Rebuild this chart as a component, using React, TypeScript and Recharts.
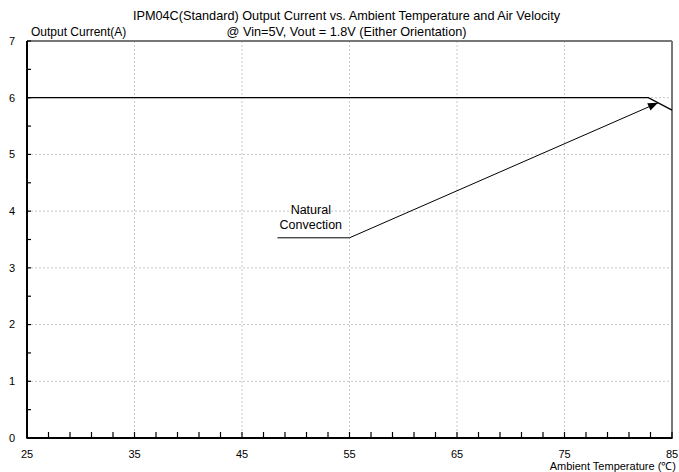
import { LineChart, Line, XAxis, YAxis, CartesianGrid, ReferenceLine, ReferenceDot } from 'recharts';

// derating curve, natural convection
const temps = [25, 82.8, 85];
const current = [6, 6, 5.78];

// callout leader line: label underline -> arrow tip on the curve
const calloutTemps = [48.3, 55, 83.7];
const calloutCurrent = [3.53, 3.53, 5.91];

const xTicks = [25, 35, 45, 55, 65, 75, 85];
const yTicks = [0, 1, 2, 3, 4, 5, 6, 7];
const xMinorTicks = Array.from({ length: 31 }, (_, i) => 25 + i * 2);
const yMinorTicks = Array.from({ length: 15 }, (_, i) => i * 0.5);

const curveData = temps.map((t, i) => ({ t, a: current[i] }));
const calloutData = calloutTemps.map((t, i) => ({ t, c: calloutCurrent[i] }));

const font = '"Liberation Sans", Arial, sans-serif';

const ArrowDot = (props: any) => {
  const { cx, cy, index, points } = props;
  if (index !== calloutTemps.length - 1 || !points) return <g key={`d${index}`} />;
  const prev = points[index - 1];
  const ang = Math.atan2(cy - prev.y, cx - prev.x);
  const len = 10;
  const w = 4;
  const bx = cx - len * Math.cos(ang);
  const by = cy - len * Math.sin(ang);
  const p1 = `${bx + w * Math.sin(ang)},${by - w * Math.cos(ang)}`;
  const p2 = `${bx - w * Math.sin(ang)},${by + w * Math.cos(ang)}`;
  return <polygon key={`d${index}`} points={`${cx},${cy} ${p1} ${p2}`} fill="#000" />;
};

const CalloutText = (props: any) => {
  const { viewBox } = props;
  const x = viewBox.x + (viewBox.width || 0) / 2;
  const y = viewBox.y + (viewBox.height || 0) / 2;
  return (
    <text x={x} textAnchor="middle" fontSize={12.5} fontFamily={font} fill="#000">
      <tspan x={x} y={y - 3}>Natural</tspan>
      <tspan x={x} y={y + 12}>Convection</tspan>
    </text>
  );
};

// only the major ticks get a label; every tick gets a short inward tick mark
const XTick = ({ x, y, payload }: any) => (
  <g>
    <line x1={x} x2={x} y1={y - 11} y2={y - 18} stroke="#000" strokeWidth={1.2} />
    {xTicks.includes(payload.value) && (
      <text x={x} y={y} dy="0.71em" textAnchor="middle" fontSize={11} fontFamily={font} fill="#000">
        {payload.value}
      </text>
    )}
  </g>
);

const YTick = ({ x, y, payload }: any) =>
  yTicks.includes(payload.value) ? (
    <text x={x} y={y} dy="0.355em" textAnchor="end" fontSize={11} fontFamily={font} fill="#000">
      {payload.value}
    </text>
  ) : (
    <g />
  );

export default function App() {
  return (
    <div style={{ position: 'absolute', left: 0, top: 0, width: 679, height: 472, background: '#fff', fontFamily: font }}>
      <div style={{ position: 'absolute', top: 8, left: 7, width: 679, textAlign: 'center', fontSize: 12.7, lineHeight: '16px' }}>
        IPM04C(Standard) Output Current vs. Ambient Temperature and Air Velocity
        <br />@ Vin=5V, Vout = 1.8V (Either Orientation)
      </div>
      <div style={{ position: 'absolute', top: 25, left: 31, fontSize: 12 }}>Output Current(A)</div>
      <div style={{ position: 'absolute', top: 458, right: 3, fontSize: 11 }}>Ambient Temperature (℃)</div>
      <LineChart width={679} height={472} margin={{ top: 41, right: 7, left: 0, bottom: 0 }}>
        <CartesianGrid stroke="#c8c8c8" strokeDasharray="2 2" verticalValues={xTicks} horizontalValues={yTicks} />
        <XAxis
          dataKey="t"
          type="number"
          domain={[25, 85]}
          ticks={xMinorTicks}
          interval={0}
          height={34}
          tickSize={0}
          tickMargin={12}
          allowDuplicatedCategory={false}
          stroke="#000"
          strokeWidth={2}
          tickLine={false}
          tick={<XTick />}
        />
        <YAxis
          type="number"
          domain={[0, 7]}
          ticks={yMinorTicks}
          interval={0}
          width={27}
          tickSize={-4}
          tickMargin={16}
          stroke="#000"
          strokeWidth={2}
          tickLine={{ stroke: '#000', strokeWidth: 1.2 }}
          tick={<YTick />}
        />
        <ReferenceLine y={7} stroke="#777" strokeWidth={2} />
        <ReferenceLine x={85} stroke="#777" strokeWidth={2} />
        <Line
          data={curveData}
          dataKey="a"
          type="linear"
          stroke="#000"
          strokeWidth={1.3}
          dot={false}
          isAnimationActive={false}
        />
        <Line
          data={calloutData}
          dataKey="c"
          type="linear"
          stroke="#000"
          strokeWidth={1}
          dot={ArrowDot}
          isAnimationActive={false}
        />
        <ReferenceDot x={51.4} y={3.9} r={0} fill="none" stroke="none" label={<CalloutText />} />
      </LineChart>
    </div>
  );
}
